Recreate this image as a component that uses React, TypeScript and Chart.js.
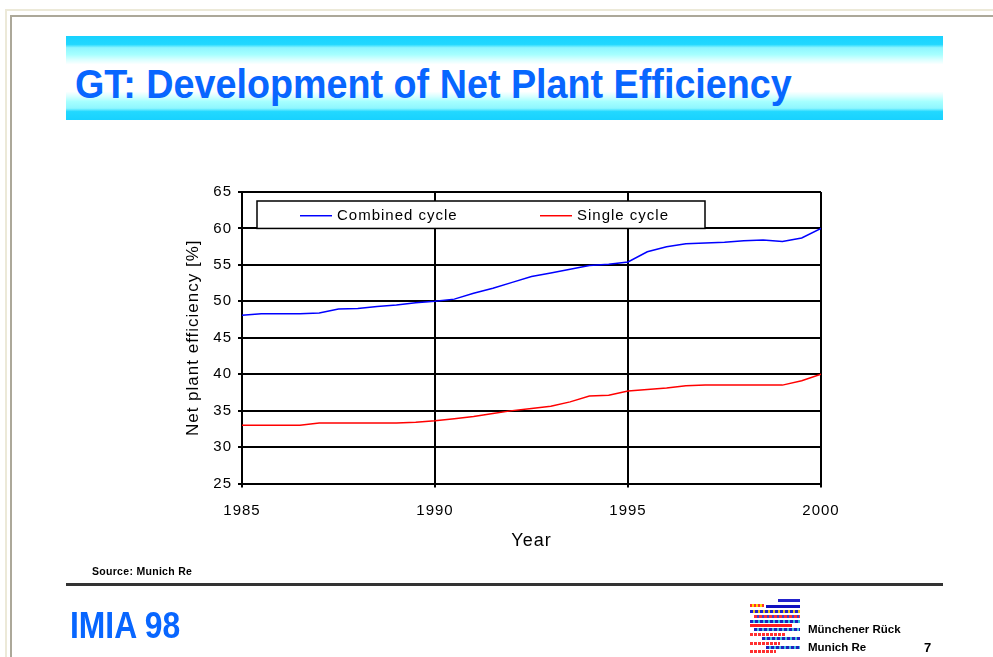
import React, { useEffect, useRef } from "react";
import { Chart, registerables } from "chart.js";

Chart.register(...registerables);

const years = [
  1985, 1985.5, 1986, 1986.5, 1987, 1987.5, 1988, 1988.5, 1989, 1989.5, 1990,
  1990.5, 1991, 1991.5, 1992, 1992.5, 1993, 1993.5, 1994, 1994.5, 1995,
  1995.5, 1996, 1996.5, 1997, 1997.5, 1998, 1998.5, 1999, 1999.5, 2000,
];
const combinedCycle = [
  48.1, 48.3, 48.3, 48.3, 48.4, 48.95, 49.0, 49.3, 49.5, 49.8, 50.0,
  50.3, 51.1, 51.8, 52.6, 53.4, 53.9, 54.4, 54.9, 55.1, 55.4,
  56.8, 57.5, 57.9, 58.0, 58.1, 58.3, 58.4, 58.2, 58.7, 60.0,
];
const singleCycle = [
  33.0, 33.0, 33.0, 33.0, 33.3, 33.3, 33.3, 33.3, 33.3, 33.4, 33.6,
  33.9, 34.2, 34.6, 35.0, 35.3, 35.6, 36.2, 37.0, 37.1, 37.7,
  37.9, 38.1, 38.4, 38.5, 38.5, 38.5, 38.5, 38.5, 39.1, 40.0,
];
const seriesLabels = ["Combined cycle", "Single cycle"];
const seriesColors = ["#0000FF", "#FF0000"];
const xTicks = [1985, 1990, 1995, 2000];
const xTickLabels = ["1985", "1990", "1995", "2000"];
const yTicks = [25, 30, 35, 40, 45, 50, 55, 60, 65];
const yTickLabels = ["25", "30", "35", "40", "45", "50", "55", "60", "65"];

const FONT = "'Liberation Sans', Arial, sans-serif";

const spacingPlugin = {
  id: "letterSpacing",
  beforeUpdate(chart: any) {
    chart.ctx.letterSpacing = "1px";
  },
  beforeDraw(chart: any) {
    chart.ctx.letterSpacing = "1px";
  },
};

const legendPlugin = {
  id: "boxLegend",
  afterDatasetsDraw(chart: any) {
    const { ctx, chartArea } = chart;
    const y60 = chart.scales.y.getPixelForValue(60);
    const left = chartArea.left + 15;
    const right = chartArea.left + 463;
    const top = chartArea.top + 9;
    ctx.save();
    ctx.fillStyle = "#ffffff";
    ctx.fillRect(left, top, right - left, y60 - top);
    ctx.strokeStyle = "#000";
    ctx.lineWidth = 1.5;
    ctx.strokeRect(left, top, right - left, y60 - top);
    const midY = (top + y60) / 2 + 1;
    const starts = [left + 43, left + 283];
    chart.data.datasets.forEach((ds: any, i: number) => {
      const sx = starts[i];
      ctx.strokeStyle = ds.borderColor;
      ctx.lineWidth = 1.5;
      ctx.beginPath();
      ctx.moveTo(sx, midY);
      ctx.lineTo(sx + 32, midY);
      ctx.stroke();
      ctx.fillStyle = "#000";
      ctx.font = `15px ${FONT}`;
      ctx.textBaseline = "middle";
      ctx.textAlign = "left";
      ctx.fillText(ds.label, sx + 37, midY);
    });
    ctx.restore();
  },
};

function ChartCanvas() {
  const ref = useRef<HTMLCanvasElement | null>(null);
  useEffect(() => {
    if (!ref.current) return;
    const chart = new Chart(ref.current, {
      type: "line",
      data: {
        labels: years,
        datasets: [
          {
            label: seriesLabels[0],
            data: years.map((x, i) => ({ x, y: combinedCycle[i] })),
            borderColor: seriesColors[0],
            backgroundColor: seriesColors[0],
            borderWidth: 1.5,
            pointRadius: 0,
            tension: 0,
          },
          {
            label: seriesLabels[1],
            data: years.map((x, i) => ({ x, y: singleCycle[i] })),
            borderColor: seriesColors[1],
            backgroundColor: seriesColors[1],
            borderWidth: 1.5,
            pointRadius: 0,
            tension: 0,
          },
        ],
      },
      options: {
        animation: false,
        responsive: false,
        maintainAspectRatio: false,
        layout: { padding: { left: 0, top: 192, right: 172, bottom: 0 } },
        plugins: {
          legend: { display: false },
          tooltip: { enabled: false },
          title: { display: false },
        },
        scales: {
          x: {
            type: "linear",
            min: 1985,
            max: 2000,
            afterFit: (s: any) => {
              s.height = 173.5;
            },
            afterBuildTicks: (s: any) => {
              s.ticks = xTicks.map((v) => ({ value: v }));
            },
            ticks: {
              color: "#000",
              font: { family: FONT, size: 15 },
              padding: 14,
              maxRotation: 0,
              callback: (v: any) => xTickLabels[xTicks.indexOf(Number(v))] ?? "",
            },
            grid: { color: "#000", lineWidth: 2, tickLength: 4 },
            border: { color: "#000", width: 2 },
            title: {
              display: true,
              text: "Year",
              color: "#000",
              font: { family: FONT, size: 18 },
              padding: { top: 0, bottom: 105 },
            },
          },
          y: {
            type: "linear",
            min: 25,
            max: 65,
            afterFit: (s: any) => {
              s.width = 242;
            },
            afterBuildTicks: (s: any) => {
              s.ticks = yTicks.map((v) => ({ value: v }));
            },
            ticks: {
              color: "#000",
              font: { family: FONT, size: 15 },
              padding: 6,
              callback: (v: any) => yTickLabels[yTicks.indexOf(Number(v))] ?? "",
            },
            grid: { color: "#000", lineWidth: 2, tickLength: 4 },
            border: { color: "#000", width: 2 },
            title: {
              display: true,
              text: "Net plant efficiency [%]",
              color: "#000",
              font: { family: FONT, size: 17 },
              padding: { top: 183, bottom: 0 },
            },
          },
        },
      },
      plugins: [spacingPlugin, legendPlugin],
    });
    return () => chart.destroy();
  }, []);
  return (
    <canvas
      ref={ref}
      width={993}
      height={657}
      style={{ position: "absolute", left: 0, top: 0, width: 993, height: 657 }}
    />
  );
}

const logoStripes = [
  { x: 28, y: 0, w: 22, c: "#2222cc" },
  { x: 0, y: 5, w: 14, c: "repeating-linear-gradient(90deg,#ff3030 0 2px,#ffd800 2px 4px)" },
  { x: 16, y: 6, w: 34, c: "#1010c0" },
  { x: 0, y: 11, w: 50, c: "repeating-linear-gradient(90deg,#2222cc 0 3px,#e8c020 3px 5px)" },
  { x: 4, y: 16, w: 46, c: "repeating-linear-gradient(90deg,#ff3030 0 3px,#4040d0 3px 5px)" },
  { x: 0, y: 21, w: 50, c: "repeating-linear-gradient(90deg,#2020c0 0 3px,#30c0e0 3px 5px)" },
  { x: 0, y: 25, w: 42, c: "#ff2020" },
  { x: 4, y: 29, w: 46, c: "repeating-linear-gradient(90deg,#2020c0 0 3px,#40c0e0 3px 5px)" },
  { x: 0, y: 34, w: 36, c: "repeating-linear-gradient(90deg,#ff3030 0 3px,#ffffff 3px 4px)" },
  { x: 12, y: 38, w: 38, c: "repeating-linear-gradient(90deg,#2020c0 0 3px,#40c0e0 3px 5px)" },
  { x: 0, y: 43, w: 30, c: "repeating-linear-gradient(90deg,#ff3030 0 3px,#ffffff 3px 4px)" },
  { x: 16, y: 47, w: 34, c: "repeating-linear-gradient(90deg,#2020c0 0 3px,#40c0e0 3px 5px)" },
  { x: 0, y: 51, w: 26, c: "repeating-linear-gradient(90deg,#ff3030 0 3px,#ffffff 3px 4px)" },
];

export default function App() {
  return (
    <div
      style={{
        position: "fixed",
        left: 0,
        top: 0,
        width: 993,
        height: 657,
        background: "#fff",
        overflow: "hidden",
        fontFamily: FONT,
      }}
    >
      {/* window frame lines */}
      <div style={{ position: "absolute", left: 5, top: 9, width: 988, height: 2, background: "#ECE9D8" }} />
      <div style={{ position: "absolute", left: 5, top: 9, width: 2, height: 648, background: "#ECE9D8" }} />
      <div style={{ position: "absolute", left: 10, top: 15, width: 983, height: 2, background: "#ACA899" }} />
      <div style={{ position: "absolute", left: 10, top: 15, width: 2, height: 642, background: "#ACA899" }} />

      {/* title banner */}
      <div
        style={{
          position: "absolute",
          left: 66,
          top: 36,
          width: 877,
          height: 84,
          background:
            "linear-gradient(180deg,#18d2ff 0%,#22d8ff 10%,#8ef6ff 14%,#a6ffff 22%,#d8ffff 28%,#ffffff 34%,#ffffff 66%,#d8ffff 72%,#a6ffff 78%,#8ef6ff 86%,#22d8ff 90%,#18d2ff 100%)",
        }}
      />
      <div
        style={{
          position: "absolute",
          left: 75,
          top: 60,
          whiteSpace: "nowrap",
          fontSize: 41,
          fontWeight: "bold",
          color: "#0866FF",
          lineHeight: "48px",
          transform: "scaleX(0.92)",
          transformOrigin: "left center",
        }}
      >
        GT: Development of Net Plant Efficiency
      </div>

      <ChartCanvas />

      {/* footer */}
      <div
        style={{
          position: "absolute",
          left: 92,
          top: 565,
          fontSize: 10.5,
          fontWeight: "bold",
          color: "#000",
          whiteSpace: "nowrap",
          letterSpacing: "0.3px",
        }}
      >
        Source: Munich Re
      </div>
      <div style={{ position: "absolute", left: 66, top: 583, width: 877, height: 3, background: "#333" }} />
      <div
        style={{
          position: "absolute",
          left: 70,
          top: 604,
          fontSize: 37,
          fontWeight: "bold",
          color: "#0866FF",
          whiteSpace: "nowrap",
          lineHeight: "44px",
          transform: "scaleX(0.86)",
          transformOrigin: "left center",
        }}
      >
        IMIA 98
      </div>
      <div style={{ position: "absolute", left: 750, top: 599, width: 50, height: 56 }}>
        {logoStripes.map((s, i) => (
          <div
            key={i}
            style={{ position: "absolute", left: s.x, top: s.y, width: s.w, height: 3, background: s.c }}
          />
        ))}
      </div>
      <div
        style={{
          position: "absolute",
          left: 808,
          top: 623,
          fontSize: 11.5,
          fontWeight: "bold",
          whiteSpace: "nowrap",
        }}
      >
        Münchener Rück
      </div>
      <div
        style={{
          position: "absolute",
          left: 808,
          top: 641,
          fontSize: 11.5,
          fontWeight: "bold",
          whiteSpace: "nowrap",
        }}
      >
        Munich Re
      </div>
      <div style={{ position: "absolute", left: 924, top: 640, fontSize: 13, fontWeight: "bold" }}>7</div>
    </div>
  );
}
